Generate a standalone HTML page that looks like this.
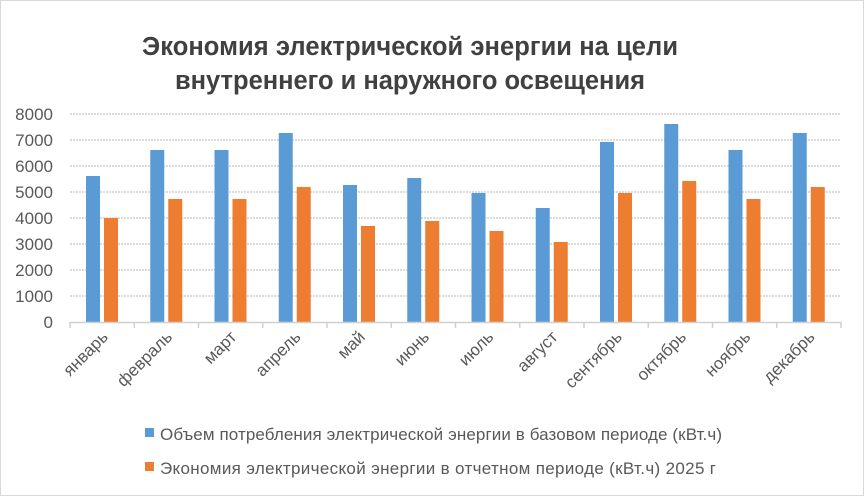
<!DOCTYPE html>
<html><head><meta charset="utf-8"><style>
html,body{margin:0;padding:0;background:#fff;}
svg{display:block;font-family:"Liberation Sans","DejaVu Sans",sans-serif;}
</style></head><body>
<svg width="864" height="496" viewBox="0 0 864 496" xmlns="http://www.w3.org/2000/svg">
<rect x="0.5" y="0.5" width="863" height="495" fill="#fff" stroke="#d9d9d9"/>
<text x="410" y="55" text-anchor="middle" font-size="25.5" font-weight="bold" fill="#404040" textLength="536">Экономия электрической энергии на цели</text>
<text x="410" y="89" text-anchor="middle" font-size="25.5" font-weight="bold" fill="#404040" textLength="470">внутреннего и наружного освещения</text>
<g stroke="#d0d0d0" stroke-width="1.5" stroke-dasharray="2,1">
<line x1="70" x2="841" y1="114" y2="114"/><line x1="70" x2="841" y1="140" y2="140"/>
<line x1="70" x2="841" y1="166" y2="166"/><line x1="70" x2="841" y1="192" y2="192"/>
<line x1="70" x2="841" y1="218" y2="218"/><line x1="70" x2="841" y1="244" y2="244"/>
<line x1="70" x2="841" y1="270" y2="270"/><line x1="70" x2="841" y1="296" y2="296"/>
</g>
<g fill="#595959" font-size="17" text-anchor="end">
<text x="53" y="120">8000</text><text x="53" y="146">7000</text><text x="53" y="172">6000</text>
<text x="53" y="198">5000</text><text x="53" y="224">4000</text><text x="53" y="250">3000</text>
<text x="53" y="276">2000</text><text x="53" y="302">1000</text><text x="53" y="328">0</text>
</g>
<g fill="#5b9bd5">
<rect x="86" y="176" width="14" height="146"/>
<rect x="150.25" y="150" width="14" height="172"/>
<rect x="214.5" y="150" width="14" height="172"/>
<rect x="278.75" y="133" width="14" height="189"/>
<rect x="343" y="185" width="14" height="137"/>
<rect x="407.25" y="178" width="14" height="144"/>
<rect x="471.5" y="193" width="14" height="129"/>
<rect x="535.75" y="208" width="14" height="114"/>
<rect x="600" y="142" width="14" height="180"/>
<rect x="664.25" y="124" width="14" height="198"/>
<rect x="728.5" y="150" width="14" height="172"/>
<rect x="792.75" y="133" width="14" height="189"/>
</g>
<g fill="#ed7d31">
<rect x="104" y="218" width="14" height="104"/>
<rect x="168.25" y="199" width="14" height="123"/>
<rect x="232.5" y="199" width="14" height="123"/>
<rect x="296.75" y="187" width="14" height="135"/>
<rect x="361" y="226" width="14" height="96"/>
<rect x="425.25" y="221" width="14" height="101"/>
<rect x="489.5" y="231" width="14" height="91"/>
<rect x="553.75" y="242" width="14" height="80"/>
<rect x="618" y="193" width="14" height="129"/>
<rect x="682.25" y="181" width="14" height="141"/>
<rect x="746.5" y="199" width="14" height="123"/>
<rect x="810.75" y="187" width="14" height="135"/>
</g>
<line x1="70" x2="841" y1="322.5" y2="322.5" stroke="#d0d0d0" stroke-width="1.5"/>
<g stroke="#d0d0d0" stroke-width="1.5">
<line x1="70" x2="70" y1="322" y2="328"/><line x1="134.25" x2="134.25" y1="322" y2="328"/>
<line x1="198.5" x2="198.5" y1="322" y2="328"/><line x1="262.75" x2="262.75" y1="322" y2="328"/>
<line x1="327" x2="327" y1="322" y2="328"/><line x1="391.25" x2="391.25" y1="322" y2="328"/>
<line x1="455.5" x2="455.5" y1="322" y2="328"/><line x1="519.75" x2="519.75" y1="322" y2="328"/>
<line x1="584" x2="584" y1="322" y2="328"/><line x1="648.25" x2="648.25" y1="322" y2="328"/>
<line x1="712.5" x2="712.5" y1="322" y2="328"/><line x1="776.75" x2="776.75" y1="322" y2="328"/>
<line x1="841" x2="841" y1="322" y2="328"/>
</g>
<g fill="#595959" font-size="17" text-anchor="end">
<text transform="translate(109,338) rotate(-45)">январь</text>
<text transform="translate(173.25,338) rotate(-45)">февраль</text>
<text transform="translate(237.5,338) rotate(-45)">март</text>
<text transform="translate(301.75,338) rotate(-45)">апрель</text>
<text transform="translate(366,338) rotate(-45)">май</text>
<text transform="translate(430.25,338) rotate(-45)">июнь</text>
<text transform="translate(494.5,338) rotate(-45)">июль</text>
<text transform="translate(558.75,338) rotate(-45)">август</text>
<text transform="translate(623,338) rotate(-45)">сентябрь</text>
<text transform="translate(687.25,338) rotate(-45)">октябрь</text>
<text transform="translate(751.5,338) rotate(-45)">ноябрь</text>
<text transform="translate(815.75,338) rotate(-45)">декабрь</text>
</g>
<rect x="145" y="428" width="9" height="9" fill="#5b9bd5"/>
<text x="160" y="440" font-size="17" fill="#595959" textLength="562">Объем потребления электрической энергии в базовом периоде (кВт.ч)</text>
<rect x="145" y="462" width="9" height="9" fill="#ed7d31"/>
<text x="160" y="474" font-size="17" fill="#595959" textLength="556">Экономия электрической энергии в отчетном периоде (кВт.ч) 2025 г</text>
</svg>
</body></html>
